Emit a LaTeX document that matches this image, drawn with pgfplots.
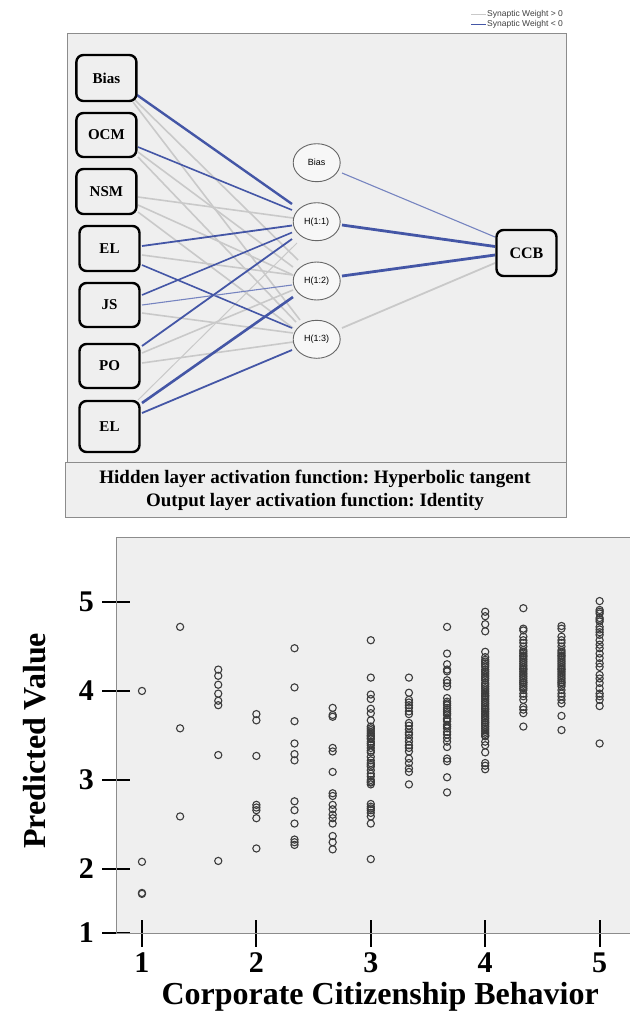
\documentclass[border=0pt]{standalone}
\usepackage{fontspec}
\setmainfont{Liberation Serif}
\newfontfamily\arialf{Liberation Sans}
\usepackage{pgfplots}
\pgfplotsset{compat=1.18}
\usetikzlibrary{shapes.geometric}
\definecolor{bg}{HTML}{EFEFEF}
\definecolor{wblue}{HTML}{4456A6}
\definecolor{wbluel}{HTML}{7684C0}
\definecolor{wgray}{HTML}{C9C9C9}
\definecolor{frame}{HTML}{8C8C8C}
\definecolor{markc}{HTML}{3C3C3C}
\begin{document}
\begin{tikzpicture}
\useasboundingbox (0,0) rectangle (629pt,-1019pt);
% ---------------- network diagram ----------------
\begin{axis}[at={(0pt,0pt)}, anchor=north west, scale only axis,
  width=629pt, height=520pt, xmin=0, xmax=629, ymin=0, ymax=520,
  y dir=reverse, hide axis, clip=false]
\fill[bg] (axis cs:67,33) rectangle (axis cs:566,462);
\draw[frame, line width=0.8pt] (axis cs:67,33) rectangle (axis cs:566,462);
\draw[frame, line width=0.8pt, fill=bg] (axis cs:65,462) rectangle (axis cs:566,517);
\node[font=\fontsize{19}{20}\selectfont\bfseries] at (axis cs:315,479) {Hidden layer activation function:\ Hyperbolic tangent};
\node[font=\fontsize{19}{20}\selectfont\bfseries] at (axis cs:315,501.5) {Output layer activation function:\ Identity};
% legend
\addplot[wgray, line width=0.8pt] coordinates {(471,14) (486,14)};
\addplot[wblue, line width=0.8pt] coordinates {(471,24) (486,24)};
\node[anchor=west, inner sep=0pt, font=\arialf\fontsize{8.5}{9}\selectfont, text=black!75] at (axis cs:487,14) {Synaptic Weight > 0};
\node[anchor=west, inner sep=0pt, font=\arialf\fontsize{8.5}{9}\selectfont, text=black!75] at (axis cs:487,24) {Synaptic Weight < 0};
% positive weights (gray)
\addplot[wgray, line width=1.6pt] coordinates {(135,100) (298,260)};
\addplot[wgray, line width=1.6pt] coordinates {(133,102) (300,320)};
\addplot[wgray, line width=1.6pt] coordinates {(138,152) (293,267)};
\addplot[wgray, line width=1.6pt] coordinates {(138,157) (296,322)};
\addplot[wgray, line width=1.6pt] coordinates {(138,197) (293,218)};
\addplot[wgray, line width=1.6pt] coordinates {(138,205) (293,275)};
\addplot[wgray, line width=1.6pt] coordinates {(138,212) (293,328)};
\addplot[wgray, line width=1.6pt] coordinates {(142,255) (293,275)};
\addplot[wgray, line width=1.6pt] coordinates {(142,313) (293,333)};
\addplot[wgray, line width=1.6pt] coordinates {(142,353) (293,290)};
\addplot[wgray, line width=1.6pt] coordinates {(142,363) (293,342)};
\addplot[wgray, line width=1.0pt] coordinates {(138,400) (297,243)};
\addplot[wgray, line width=1.8pt] coordinates {(342,328) (495,263)};
% negative weights (blue)
\addplot[wblue, line width=2.4pt] coordinates {(137,95) (292,204)};
\addplot[wblue, line width=1.6pt] coordinates {(138,147) (292,210)};
\addplot[wblue, line width=1.8pt] coordinates {(142,246) (292,225.5)};
\addplot[wblue, line width=1.6pt] coordinates {(142,265) (292,328)};
\addplot[wblue, line width=1.6pt] coordinates {(142,295) (292,232.5)};
\addplot[wbluel, line width=1.1pt] coordinates {(142,305) (292,285)};
\addplot[wblue, line width=1.8pt] coordinates {(142,346) (292,239)};
\addplot[wblue, line width=2.6pt] coordinates {(142,403) (293,297)};
\addplot[wblue, line width=1.8pt] coordinates {(142,413) (292,350)};
\addplot[wbluel, line width=1.1pt] coordinates {(342,173) (495,237)};
\addplot[wblue, line width=2.8pt] coordinates {(342,225) (495,246.5)};
\addplot[wblue, line width=2.8pt] coordinates {(342,276) (495,255)};
% input boxes
\tikzset{inbox/.style={draw=black, line width=2.4pt, rounded corners=7pt, fill=bg,
  minimum width=60pt, inner sep=0pt, font=\fontsize{15}{16}\selectfont\bfseries},
  hid/.style={ellipse, draw=black!60, line width=0.9pt, fill=white!50!bg,
  minimum width=47pt, minimum height=38pt, inner sep=0pt, font=\arialf\fontsize{9}{10}\selectfont}}
\node[inbox, minimum height=46pt] at (axis cs:106.4,78) {Bias};
\node[inbox, minimum height=44pt] at (axis cs:106.4,135) {OCM};
\node[inbox, minimum height=45pt] at (axis cs:106.4,191.5) {NSM};
\node[inbox, minimum height=45pt] at (axis cs:109.5,248.5) {EL};
\node[inbox, minimum height=44pt] at (axis cs:109.5,305) {JS};
\node[inbox, minimum height=44pt] at (axis cs:109.5,366) {PO};
\node[inbox, minimum height=51pt] at (axis cs:109.5,426.5) {EL};
\node[inbox, minimum height=46pt, minimum width=60pt, font=\fontsize{16}{17}\selectfont\bfseries] at (axis cs:526.5,253) {CCB};
\node[hid] at (axis cs:316.7,162.7) {Bias};
\node[hid] at (axis cs:316.7,221.7) {H(1:1)};
\node[hid] at (axis cs:316.7,281) {H(1:2)};
\node[hid] at (axis cs:316.7,339.3) {H(1:3)};
\end{axis}
% ---------------- scatter plot ----------------
\begin{axis}[at={(116pt,-933pt)}, anchor=south west, scale only axis,
  width=520pt, height=396pt,
  xmin=0.773, xmax=5.318, ymin=1.28, ymax=5.73,
  axis background/.style={fill=bg},
  axis line style={draw=frame, line width=0.8pt},
  xtick={1,2,3,4,5}, ytick={1.28,2,3,4,5}, yticklabels={1,2,3,4,5},
  tick pos=left, major tick length=27pt, tick align=center,
  major tick style={black, line width=2.2pt},
  /pgf/number format/assume math mode=true,
  ticklabel style={font=\fontsize{30}{32}\selectfont\bfseries},
  yticklabel style={xshift=-5pt},
  xticklabel style={yshift=-3pt},
  xlabel={Corporate Citizenship Behavior}, ylabel={Predicted Value},
  label style={font=\fontsize{32}{34}\selectfont\bfseries},
  xlabel style={at={(axis description cs:0.508,-0.162)}, anchor=center},
  ylabel style={at={(axis description cs:-0.156,0.485)}, anchor=center}]
\addplot[only marks, mark=o, mark size=3.6pt, markc, mark options={line width=1.1pt}] table {
x y
1 4.00
1 2.08
1 1.72
1 1.73
1.3333 4.72
1.3333 3.58
1.3333 2.59
1.6667 4.24
1.6667 4.17
1.6667 4.07
1.6667 3.97
1.6667 3.89
1.6667 3.84
1.6667 3.28
1.6667 2.09
2 3.74
2 3.67
2 3.27
2 2.72
2 2.69
2 2.66
2 2.57
2 2.23
2.3333 4.48
2.3333 4.04
2.3333 3.66
2.3333 3.41
2.3333 3.29
2.3333 3.22
2.3333 2.76
2.3333 2.66
2.3333 2.51
2.3333 2.33
2.3333 2.30
2.3333 2.27
2.6667 3.81
2.6667 3.73
2.6667 3.71
2.6667 3.36
2.6667 3.32
2.6667 3.09
2.6667 2.85
2.6667 2.82
2.6667 2.72
2.6667 2.67
2.6667 2.61
2.6667 2.57
2.6667 2.51
2.6667 2.37
2.6667 2.30
2.6667 2.22
3 4.57
3 4.15
3 3.96
3 3.91
3 3.80
3 3.75
3 3.67
3 3.60
3 3.58
3 3.56
3 3.54
3 3.52
3 3.50
3 3.49
3 3.47
3 3.46
3 3.43
3 3.41
3 3.39
3 3.36
3 3.33
3 3.31
3 3.26
3 3.22
3 3.19
3 3.17
3 3.15
3 3.11
3 3.07
3 3.04
3 3.00
3 2.98
3 2.97
3 2.95
3 2.73
3 2.70
3 2.68
3 2.66
3 2.63
3 2.59
3 2.51
3 2.11
3.3333 4.15
3.3333 3.98
3.3333 3.90
3.3333 3.87
3.3333 3.84
3.3333 3.81
3.3333 3.77
3.3333 3.74
3.3333 3.64
3.3333 3.61
3.3333 3.57
3.3333 3.53
3.3333 3.51
3.3333 3.47
3.3333 3.43
3.3333 3.39
3.3333 3.36
3.3333 3.32
3.3333 3.24
3.3333 3.19
3.3333 3.13
3.3333 3.09
3.3333 2.95
3.6667 4.72
3.6667 4.42
3.6667 4.30
3.6667 4.24
3.6667 4.22
3.6667 4.12
3.6667 4.09
3.6667 4.05
3.6667 3.92
3.6667 3.88
3.6667 3.86
3.6667 3.84
3.6667 3.81
3.6667 3.79
3.6667 3.77
3.6667 3.75
3.6667 3.73
3.6667 3.69
3.6667 3.68
3.6667 3.66
3.6667 3.62
3.6667 3.60
3.6667 3.58
3.6667 3.54
3.6667 3.51
3.6667 3.47
3.6667 3.43
3.6667 3.37
3.6667 3.24
3.6667 3.21
3.6667 3.03
3.6667 2.86
4 4.89
4 4.84
4 4.75
4 4.67
4 4.44
4 4.38
4 4.35
4 4.33
4 4.31
4 4.29
4 4.27
4 4.24
4 4.22
4 4.20
4 4.18
4 4.16
4 4.14
4 4.12
4 4.09
4 4.07
4 4.05
4 4.03
4 4.01
4 3.99
4 3.97
4 3.95
4 3.94
4 3.92
4 3.90
4 3.88
4 3.86
4 3.84
4 3.82
4 3.80
4 3.79
4 3.77
4 3.75
4 3.73
4 3.71
4 3.69
4 3.67
4 3.65
4 3.64
4 3.62
4 3.60
4 3.58
4 3.56
4 3.54
4 3.52
4 3.50
4 3.49
4 3.43
4 3.39
4 3.31
4 3.19
4 3.16
4 3.12
4.3333 4.93
4.3333 4.70
4.3333 4.68
4.3333 4.61
4.3333 4.57
4.3333 4.54
4.3333 4.50
4.3333 4.46
4.3333 4.44
4.3333 4.42
4.3333 4.40
4.3333 4.39
4.3333 4.37
4.3333 4.35
4.3333 4.33
4.3333 4.31
4.3333 4.29
4.3333 4.27
4.3333 4.25
4.3333 4.24
4.3333 4.22
4.3333 4.20
4.3333 4.18
4.3333 4.16
4.3333 4.14
4.3333 4.12
4.3333 4.10
4.3333 4.09
4.3333 4.07
4.3333 4.05
4.3333 4.03
4.3333 4.01
4.3333 3.97
4.3333 3.94
4.3333 3.90
4.3333 3.82
4.3333 3.79
4.3333 3.75
4.3333 3.60
4.6667 4.73
4.6667 4.70
4.6667 4.61
4.6667 4.57
4.6667 4.54
4.6667 4.50
4.6667 4.46
4.6667 4.44
4.6667 4.42
4.6667 4.40
4.6667 4.39
4.6667 4.37
4.6667 4.35
4.6667 4.33
4.6667 4.31
4.6667 4.29
4.6667 4.27
4.6667 4.25
4.6667 4.24
4.6667 4.22
4.6667 4.20
4.6667 4.18
4.6667 4.16
4.6667 4.14
4.6667 4.12
4.6667 4.10
4.6667 4.09
4.6667 4.07
4.6667 4.05
4.6667 4.01
4.6667 3.97
4.6667 3.94
4.6667 3.90
4.6667 3.86
4.6667 3.72
4.6667 3.56
5 5.01
5 4.91
5 4.89
5 4.87
5 4.82
5 4.80
5 4.78
5 4.72
5 4.69
5 4.66
5 4.63
5 4.57
5 4.52
5 4.48
5 4.42
5 4.37
5 4.31
5 4.27
5 4.18
5 4.14
5 4.09
5 4.03
5 3.97
5 3.94
5 3.90
5 3.83
5 3.41
};
\end{axis}
\end{tikzpicture}
\end{document}
